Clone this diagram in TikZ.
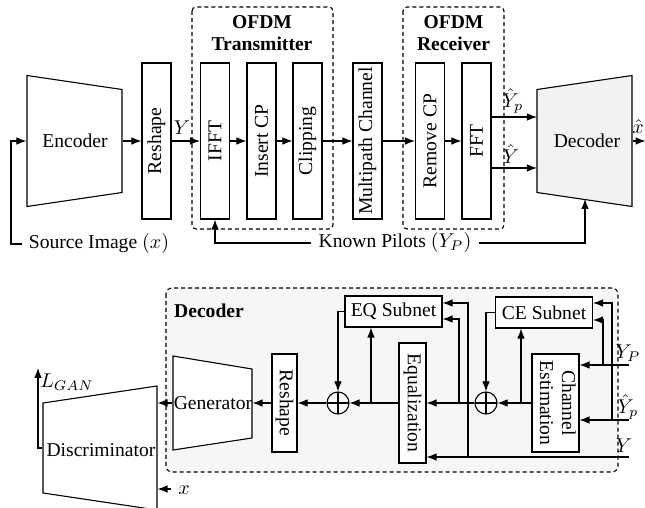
\documentclass[tikz,border=0pt]{standalone}
\usepackage{fontspec}
\setmainfont{Liberation Serif}
\usetikzlibrary{arrows.meta,calc}

\begin{document}
\begin{tikzpicture}[x=0.5pt, y=-0.5pt, line width=0.55pt,
    font=\fontsize{9.8}{11}\selectfont,
    >={Latex[length=5pt,width=3.8pt]},
    tall/.style={draw, fill=white, inner sep=0pt, minimum width=14.5pt, minimum height=78pt},
    grp/.style={draw, dash pattern=on 2pt off 1.5pt, rounded corners=2pt},
    ttl/.style={font=\fontsize{9.8}{11}\selectfont\bfseries, align=center},
    hull/.style={inner sep=0pt},
    lbl/.style={inner sep=0.5pt},
    subnet/.style={draw, fill=white, inner sep=1pt, minimum width=48.5pt, minimum height=15.5pt},
    adder/.style={circle, draw, fill=white, minimum size=11pt, inner sep=0pt,
      path picture={\draw (path picture bounding box.north) -- (path picture bounding box.south)
        (path picture bounding box.west) -- (path picture bounding box.east);}}]
\useasboundingbox (0,0) rectangle (645,508);

% transmitter chain
\node[hull, minimum width=47.5pt, minimum height=65.5pt] (enc) at (74.5,141) {};
\draw (27,75.5) -- (122,89.5) -- (122,192.5) -- (27,206.5) -- cycle;
\node (enclbl) at (75,141) {Encoder};

\draw[grp] (192,7) rectangle (333,229);
\draw[grp] (403,7) rectangle (504,229);
\node[ttl] (txttl) at (262,33) {OFDM\\Transmitter};
\node[ttl] (rxttl) at (453.5,33) {OFDM\\Receiver};

\foreach \n/\x/\t in {rsh/156.5/Reshape, ifft/215/IFFT, icp/261.5/Insert CP, clip/307.5/Clipping,
    mpc/367.5/Multipath Channel, rcp/430/Remove CP, fft/476.5/FFT}
  \node[tall] (\n) at (\x,141) {\rotatebox{90}{\t}};

\foreach \a/\b in {enc/rsh, rsh/ifft, ifft/icp, icp/clip, clip/mpc, mpc/rcp, rcp/fft}
  \draw[->] (\a.east) -- (\b.west);
\node[lbl] (ylbl) at (182,128) {$Y$};

\node[hull, minimum width=47.5pt, minimum height=65.5pt] (dec) at (584.5,141) {};
\draw[fill=gray!10] (537,89.5) -- (632,75.5) -- (632,206.5) -- (537,192.5) -- cycle;
\node (declbl) at (587,141) {Decoder};

\coordinate (dyp) at (537,117);
\coordinate (dy) at (537,168);
\draw[->] (fft.east |- dyp) -- (dyp);
\draw[->] (fft.east |- dy) -- (dy);
\node[lbl] (yplbl) at (513,101) {$\hat{Y}_p$};
\node[lbl] (yhlbl) at (511,154) {$\hat{Y}$};
\draw[->] (dec.east) -- ++(13,0);
\node[lbl] (xhlbl) at (638,127) {$\hat{x}$};

\node (src) at (99,244) {Source Image $(x)$};
\coordinate (srcin) at (11,141);
\draw[->] (src.west) -| (srcin) -- (enc.west);

\node (kp) at (395,243) {Known Pilots $(Y_P)$};
\coordinate (decb) at (585,199);
\draw[->] (kp.west) -| (ifft.south);
\draw[->] (kp.east) -| (decb);

% decoder internals
\draw[grp, fill=gray!7, rounded corners=3pt] (166,288) rectangle (618,472);
\node[ttl] (dttl) at (209,311) {Decoder};

\node[hull, minimum width=39.5pt, minimum height=47pt] (gen) at (212.5,403) {};
\draw[fill=white] (173,356) -- (252,369) -- (252,438) -- (173,450) -- cycle;
\node (genlbl) at (213,403) {Generator};

\node[draw, fill=white, inner sep=0pt, minimum width=12.5pt, minimum height=49pt] (rsh2) at (284.5,403)
  {\rotatebox{-90}{Reshape}};
\node[adder] (op1) at (338,403) {};
\node[adder] (op2) at (486,403) {};
\node[draw, fill=white, inner sep=0pt, minimum width=13.5pt, minimum height=60pt] (eqz) at (412.5,403)
  {\rotatebox{-90}{Equalization}};
\node[draw, fill=white, inner sep=0pt, minimum width=23.5pt, minimum height=49pt] (ce) at (555.5,403)
  {\rotatebox{-90}{\begin{tabular}{@{}c@{}}Channel\\Estimation\end{tabular}}};
\node[subnet] (eqs) at (393.5,311.5) {EQ Subnet};
\node[subnet] (ces) at (544,312.5) {CE Subnet};

\draw[->] (ce.west) -- (op2.east);
\draw[->] (op2.west) -- (eqz.east);
\draw[->] (eqz.west) -- (op1.east);
\draw[->] (op1.west) -- (rsh2.east);
\draw[->] (rsh2.west) -- (gen.east);
\draw[->] (eqs.west) -| (op1.north);
\draw[->] (ces.west) -| (op2.north);

\coordinate (b0) at (371,403);
\coordinate (b1) at (521,403);
\coordinate (b2) at (459,403);
\draw[->] (b0) -- (b0 |- eqs.south);
\draw[->] (b1) -- (b1 |- ces.south);
\draw[->] (b2) |- ($(eqs.east)+(0,7.5)$);

\coordinate (yp) at (629,365);
\coordinate (yph) at (629,420);
\coordinate (yy) at (629,457);
\coordinate (yp1) at (603,365);
\coordinate (yph1) at (612,420);
\coordinate (yy1) at (468,457);
\draw[->] (yp) -- (yp -| ce.east);
\draw[->] (yph) -- (yph -| ce.east);
\draw[->] (yy) -- (yy -| eqz.east);
\draw[->] (yp1) |- ($(ces.east)+(0,7.5)$);
\draw[->] (yph1) |- ($(ces.east)+(0,-9.5)$);
\draw[->] (yy1) |- ($(eqs.east)+(0,-8.5)$);
\node[lbl] (yplbl2) at (628,353) {$Y_P$};
\node[lbl] (yphlbl2) at (628,407) {$\hat{Y}_p$};
\node[lbl] (ylbl2) at (624,446) {$Y$};

% discriminator
\node[hull, minimum width=57pt, minimum height=62pt] (disc) at (100,448) {};
\draw (43,403) -- (157,386) -- (157,510) -- (43,493) -- cycle;
\node (disclbl) at (101,450) {Discriminator};
\draw[->] (gen.west) -- (gen.west -| disc.east);
\coordinate (lg) at (38,368);
\draw[->] (disc.west) -| (lg);
\node[lbl] (lganlbl) at (67,382) {$L_{GAN}$};
\coordinate (xin) at (171,489);
\draw[->] (xin) -- (xin -| disc.east);
\node[lbl] (xlbl) at (184,490) {$x$};
\end{tikzpicture}
\end{document}
